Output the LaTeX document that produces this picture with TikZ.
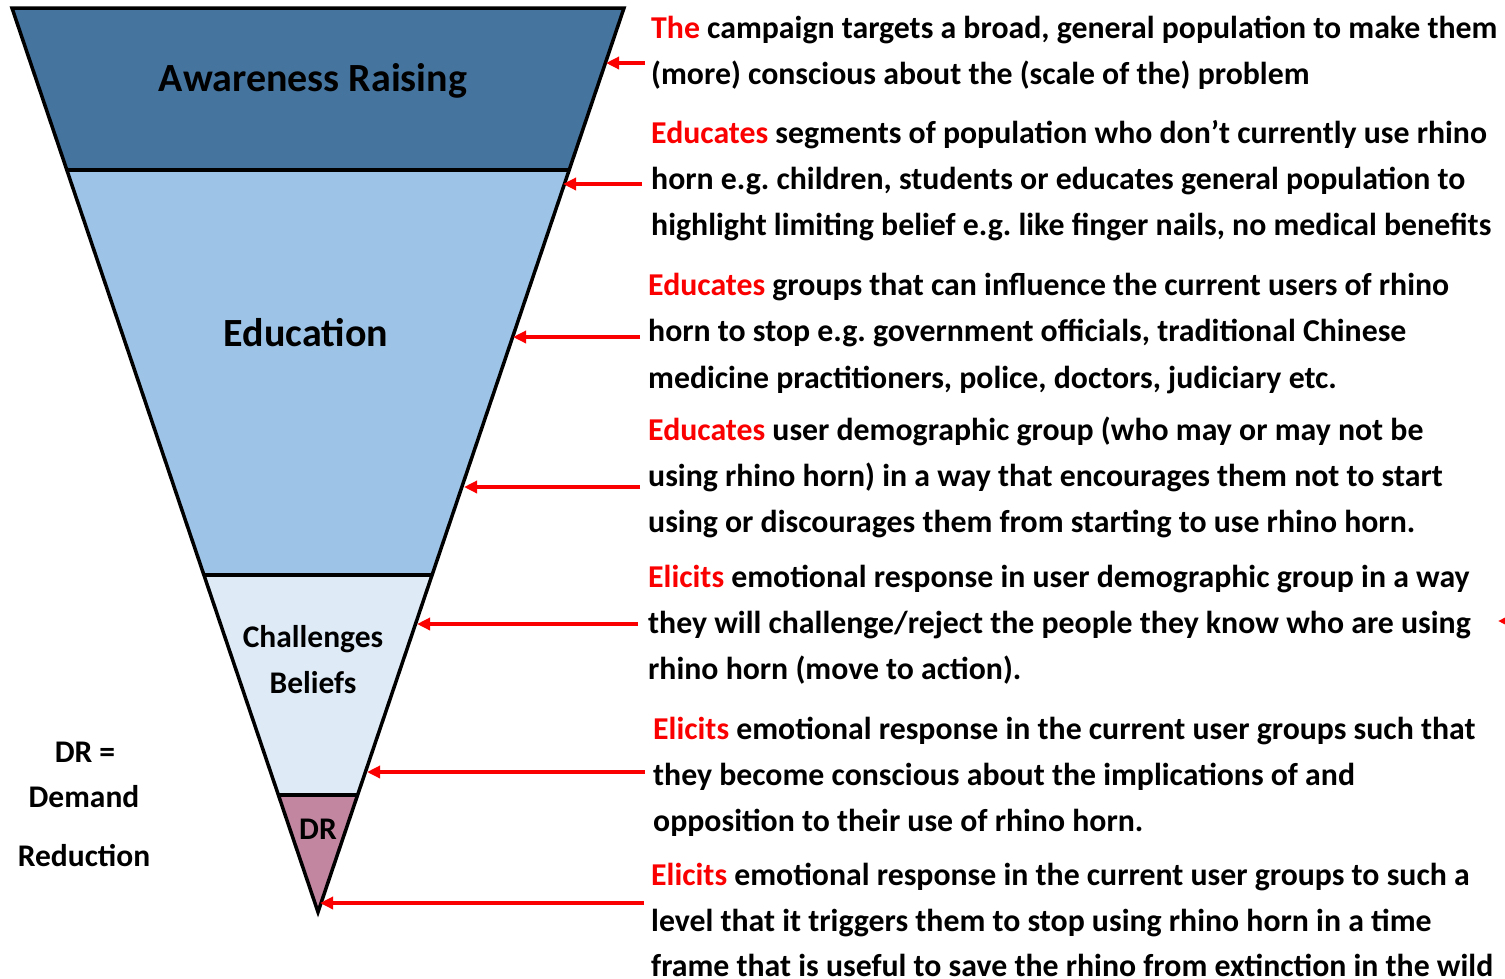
\documentclass[tikz,border=0pt]{standalone}
\usepackage{fontspec}
\setmainfont{Carlito}
\usetikzlibrary{arrows.meta,calc}
\frenchspacing

\definecolor{awareBlue}{RGB}{69,116,159}
\definecolor{eduBlue}{RGB}{157,195,230}
\definecolor{beliefBlue}{RGB}{222,235,247}
\definecolor{drPink}{RGB}{195,134,161}
\definecolor{leadRed}{RGB}{250,0,0}

\newcommand{\lead}[1]{\textcolor{leadRed}{#1}}

\tikzset{
  band/.style={draw=black, line width=3.5pt, line join=miter},
  divider/.style={draw=black, line width=3.5pt},
  tierlabel/.style={font=\bfseries\fontsize{40}{44}\selectfont, inner sep=0pt, anchor=base},
  smalllabel/.style={font=\bfseries\fontsize{31.5}{34}\selectfont, inner sep=0pt, anchor=base},
  noteline/.style={font=\bfseries\fontsize{31.8}{34}\selectfont, inner sep=0pt, anchor=base west},
  pointer/.style={draw=leadRed, line width=3.3pt, -{Triangle[length=13pt,width=12pt]}}
}

\begin{document}
\begin{tikzpicture}[x=1pt, y=-1pt]
\useasboundingbox (0,0) rectangle (1505,978);

% funnel corners and tier boundaries
\coordinate (TL) at (12,8);
\coordinate (TR) at (624,8);
\coordinate (AP) at (318,912);
\coordinate (L1) at (67,170);  \coordinate (R1) at (569,170);
\coordinate (L2) at (204,575); \coordinate (R2) at (432,575);
\coordinate (L3) at (278,795); \coordinate (R3) at (358,795);

% tiers
\fill[awareBlue] (TL) -- (TR) -- (R1) -- (L1) -- cycle;
\fill[eduBlue] (L1) -- (R1) -- (R2) -- (L2) -- cycle;
\fill[beliefBlue] (L2) -- (R2) -- (R3) -- (L3) -- cycle;
\fill[drPink] (L3) -- (R3) -- (AP) -- cycle;
\draw[divider] (L1) -- (R1);
\draw[divider] (L2) -- (R2);
\draw[divider] (L3) -- (R3);
\draw[band] (TL) -- (TR) -- (AP) -- cycle;

% tier labels
\node[tierlabel] (aware) at (313,91) {Awareness Raising};
\node[tierlabel] (edu) at (306,346) {Education};
\node[smalllabel] (chal) at (313,647) {Challenges};
\node[smalllabel] (beli) at (313,693) {Beliefs};
\node[smalllabel] (dr) at (318,839) {DR};

% legend
\node[smalllabel] (lgA) at (85,762) {DR =};
\node[smalllabel] (lgB) at (84,807) {Demand};
\node[smalllabel] (lgC) at (84,866) {Reduction};

% descriptions
\node[noteline] (n1a) at (651,38) {\lead{The} campaign targets a broad, general population to make them};
\node[noteline] (n1b) at (651,84) {(more) conscious about the (scale of the) problem};

\node[noteline] (n2a) at (651,143) {\lead{Educates} segments of population who don’t currently use rhino};
\node[noteline] (n2b) at (651,189) {horn e.g. children, students or educates general population to};
\node[noteline] (n2c) at (651,235) {highlight limiting belief e.g. like finger nails, no medical benefits};

\node[noteline] (n3a) at (648,295) {\lead{Educates} groups that can influence the current users of rhino};
\node[noteline] (n3b) at (648,341) {horn to stop e.g. government officials, traditional Chinese};
\node[noteline] (n3c) at (648,388) {medicine practitioners, police, doctors, judiciary etc.};

\node[noteline] (n4a) at (648,440) {\lead{Educates} user demographic group (who may or may not be};
\node[noteline] (n4b) at (648,486) {using rhino horn) in a way that encourages them not to start};
\node[noteline] (n4c) at (648,532) {using or discourages them from starting to use rhino horn.};

\node[noteline] (n5a) at (648,587) {\lead{Elicits} emotional response in user demographic group in a way};
\node[noteline] (n5b) at (648,633) {they will challenge/reject the people they know who are using};
\node[noteline] (n5c) at (648,679) {rhino horn (move to action).};

\node[noteline] (n6a) at (653,739) {\lead{Elicits} emotional response in the current user groups such that};
\node[noteline] (n6b) at (653,785) {they become conscious about the implications of and};
\node[noteline] (n6c) at (653,831) {opposition to their use of rhino horn.};

\node[noteline] (n7a) at (651,885) {\lead{Elicits} emotional response in the current user groups to such a};
\node[noteline] (n7b) at (651,931) {level that it triggers them to stop using rhino horn in a time};
\node[noteline] (n7c) at (651,976) {frame that is useful to save the rhino from extinction in the wild};

% pointer tails and tips on the funnel edge
\coordinate (s1) at (645,63);  \coordinate (e1) at (606,63);
\coordinate (s2) at (642,184); \coordinate (e2) at (563,184);
\coordinate (s3) at (640,337); \coordinate (e3) at (513,337);
\coordinate (s4) at (640,487); \coordinate (e4) at (464,487);
\coordinate (s5) at (638,624); \coordinate (e5) at (417,624);
\coordinate (s6) at (645,772); \coordinate (e6) at (367,772);
\coordinate (s7) at (644,903); \coordinate (e7) at (320,903);
\foreach \i in {1,...,7} { \draw[pointer] (s\i) -- (e\i); }

% pointer tip at the right margin
\coordinate (s8) at (1530,621); \coordinate (e8) at (1498,621);
\begin{scope}
\clip (0,0) rectangle (1505,978);
\draw[pointer] (s8) -- (e8);
\end{scope}
\end{tikzpicture}
\end{document}
